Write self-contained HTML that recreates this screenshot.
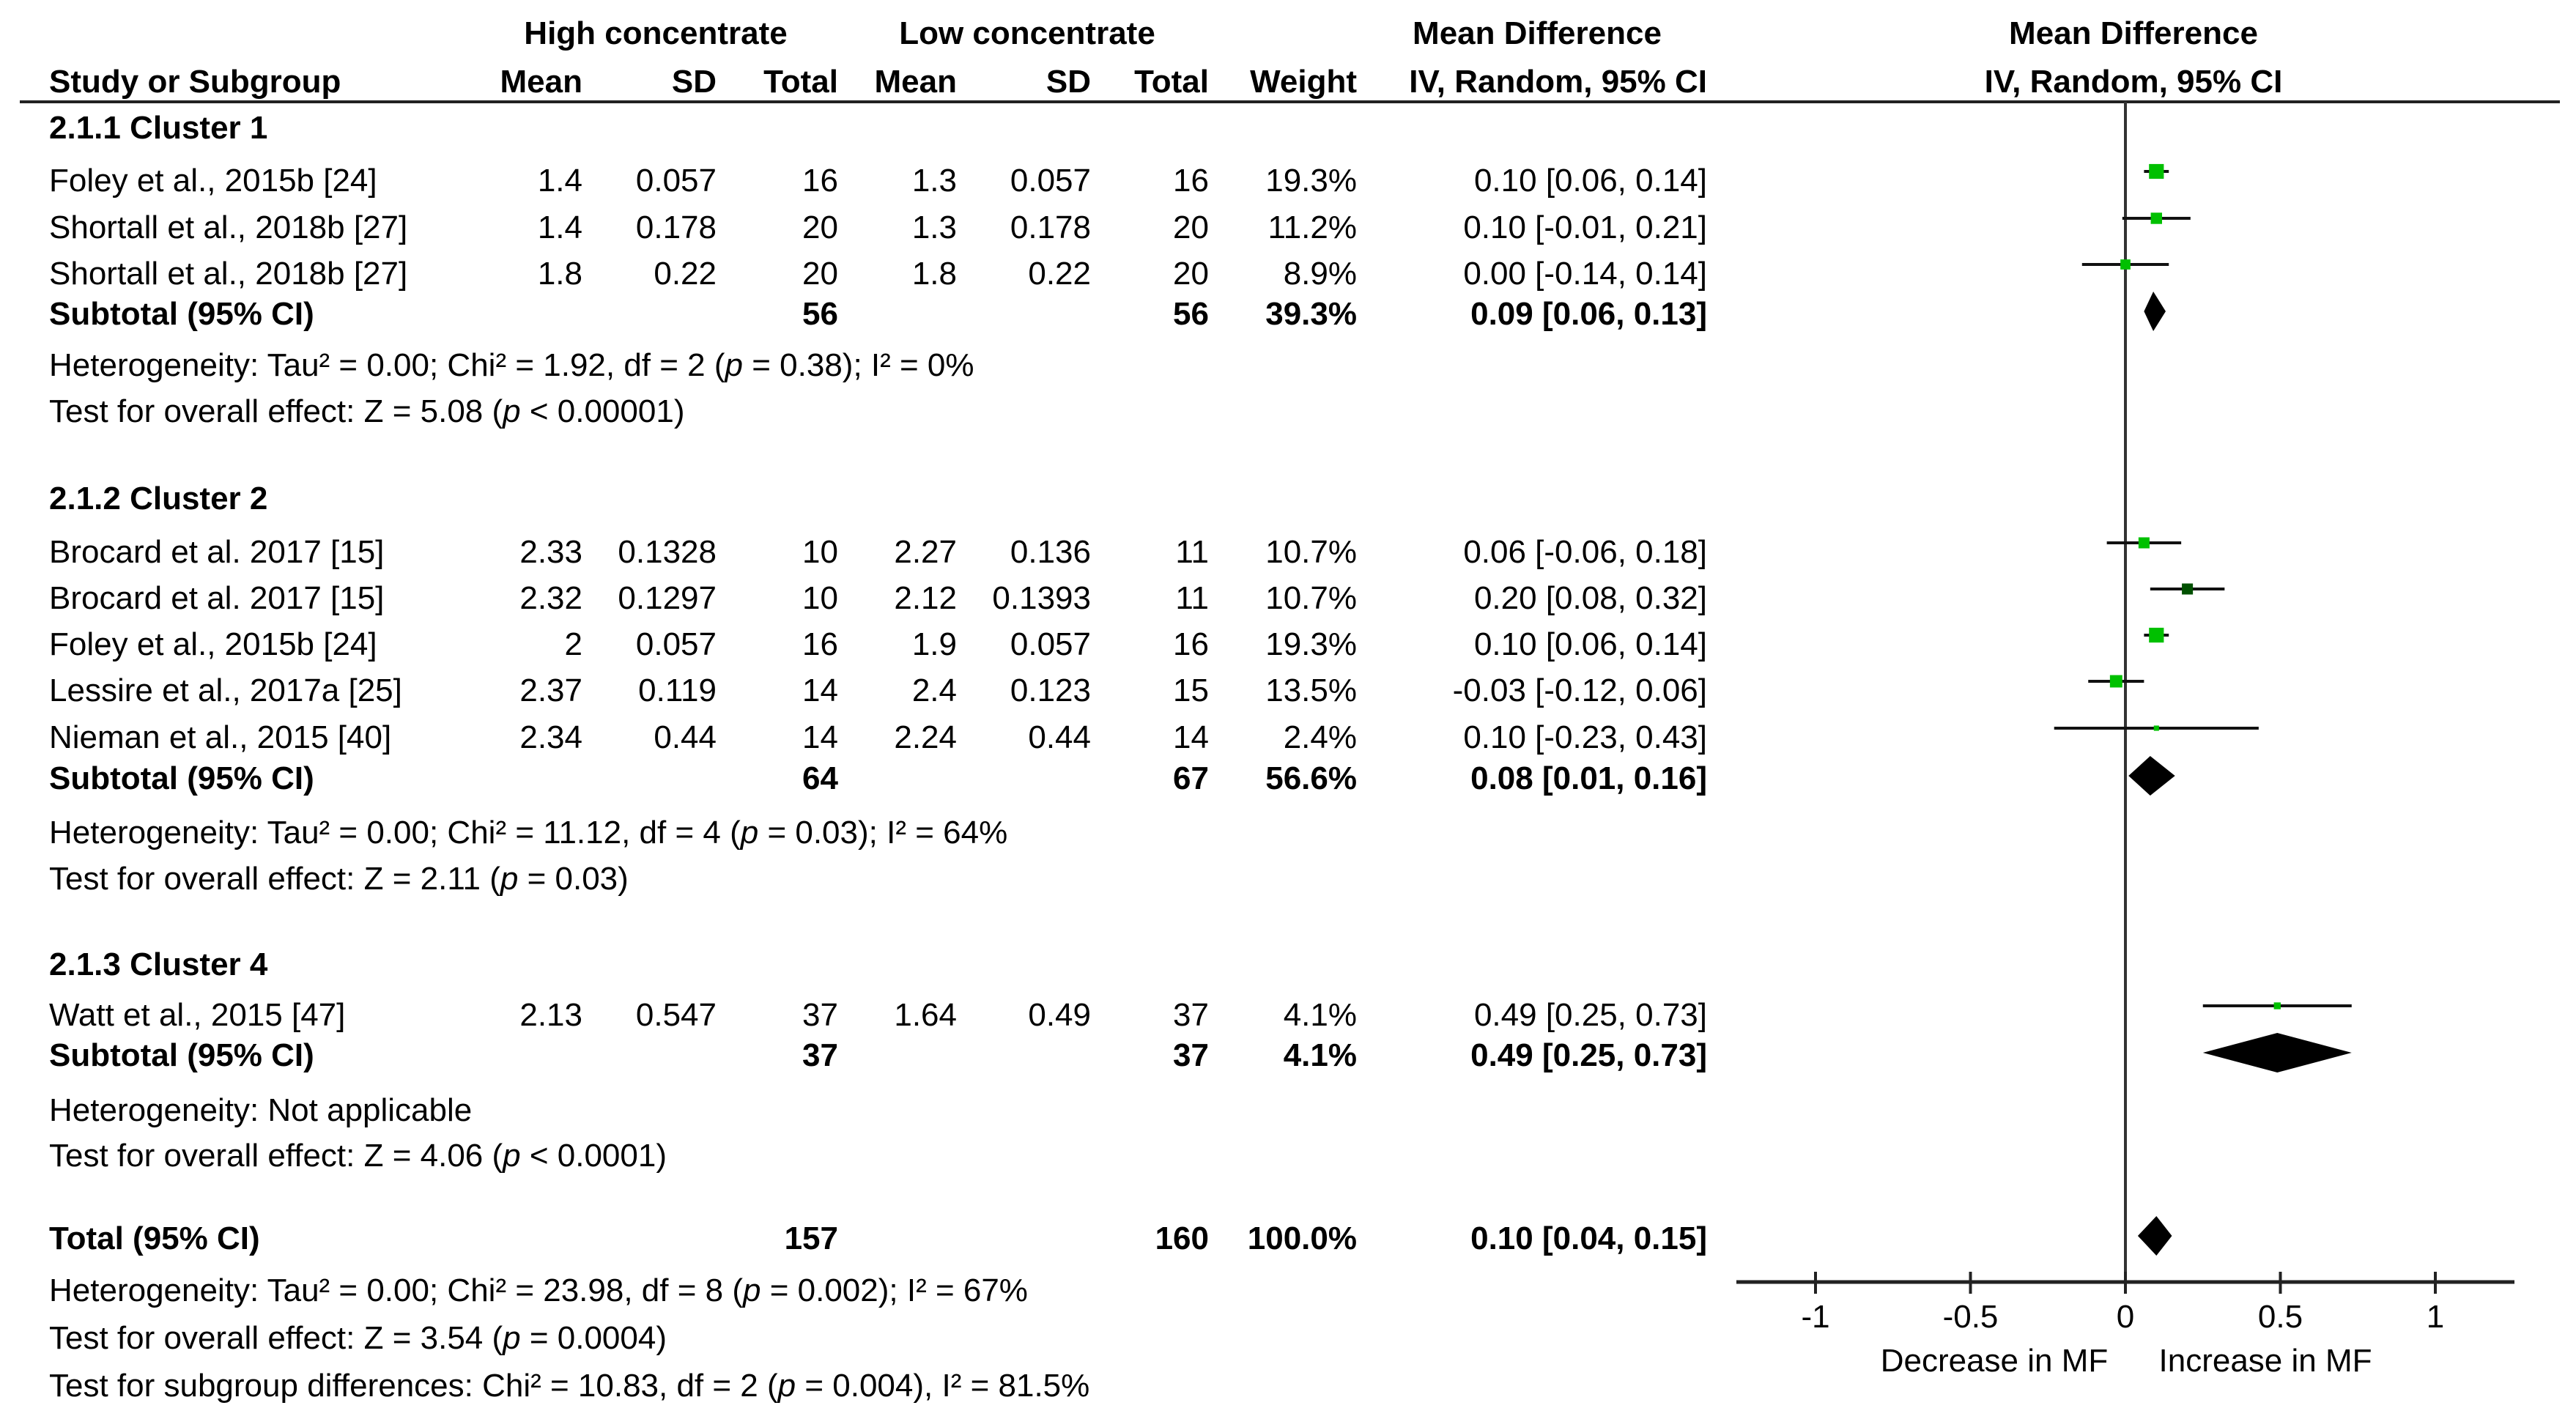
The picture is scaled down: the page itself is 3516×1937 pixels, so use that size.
<!DOCTYPE html>
<html><head><meta charset="utf-8"><style>
html,body{margin:0;padding:0;background:#fff;}
svg{display:block;}
text{font-family:"Liberation Sans",Arial,sans-serif;font-size:44px;fill:#000;}
.b{font-weight:bold;}
.r{text-anchor:end;}
.c{text-anchor:middle;}
</style></head><body>
<svg id="chart" width="3516" height="1937" viewBox="0 0 3516 1937" xmlns="http://www.w3.org/2000/svg">
<g id="table"></g>
<g id="plot"></g>
</svg>
<script>
// ---- data ----
const studyNames = ["Foley et al., 2015b [24]","Shortall et al., 2018b [27]","Shortall et al., 2018b [27]","Brocard et al.  2017 [15]","Brocard et al.  2017 [15]","Foley et al., 2015b [24]","Lessire et al., 2017a [25]","Nieman et al., 2015 [40]","Watt et al., 2015 [47]"];
const highMean = ["1.4","1.4","1.8","2.33","2.32","2","2.37","2.34","2.13"];
const highSD = ["0.057","0.178","0.22","0.1328","0.1297","0.057","0.119","0.44","0.547"];
const highN = ["16","20","20","10","10","16","14","14","37"];
const lowMean = ["1.3","1.3","1.8","2.27","2.12","1.9","2.4","2.24","1.64"];
const lowSD = ["0.057","0.178","0.22","0.136","0.1393","0.057","0.123","0.44","0.49"];
const lowN = ["16","20","20","11","11","16","15","14","37"];
const weights = [19.3,11.2,8.9,10.7,10.7,19.3,13.5,2.4,4.1];
const md = [0.10,0.10,0.00,0.06,0.20,0.10,-0.03,0.10,0.49];
const ciLow = [0.06,-0.01,-0.14,-0.06,0.08,0.06,-0.12,-0.23,0.25];
const ciHigh = [0.14,0.21,0.14,0.18,0.32,0.14,0.06,0.43,0.73];
const studyRowY = [246,310,373,753,816,879,942,1006,1385];
const studyColor = ["#00c000","#00c000","#00c000","#00c000","#005000","#00c000","#00c000","#00c000","#00c000"];
const subNames = ["Subtotal (95% CI)","Subtotal (95% CI)","Subtotal (95% CI)","Total (95% CI)"];
const subHighN = ["56","64","37","157"];
const subLowN = ["56","67","37","160"];
const subWeight = ["39.3%","56.6%","4.1%","100.0%"];
const subMd = [0.09,0.08,0.49,0.10];
const subLow = [0.06,0.01,0.25,0.04];
const subHigh = [0.13,0.16,0.73,0.15];
const subRowY = [428,1062,1440,1690];
const tickValues = [-1,-0.5,0,0.5,1];
const tickLabels = ["-1","-0.5","0","0.5","1"];

// ---- scales ----
const X0 = 2901, UNIT = 423;
function xs(v){ return X0 + v*UNIT; }
const NS = "http://www.w3.org/2000/svg";
const table = document.getElementById('table');
const plot = document.getElementById('plot');
function fmt(v){ return v.toFixed(2); }
function txt(parent, x, y, s, cls, name){
  const t = document.createElementNS(NS,'text');
  t.setAttribute('x',x); t.setAttribute('y',y);
  if(cls) t.setAttribute('class',cls);
  t.innerHTML = s;
  
  
  parent.appendChild(t); return t;
}
function el(parent, tag, attrs, name){
  const e = document.createElementNS(NS,tag);
  for(const k in attrs) e.setAttribute(k, attrs[k]);
  
  
  parent.appendChild(e); return e;
}
const BL = 15;
const LX = 67;
const cMean1=795, cSD1=978, cN1=1144, cMean2=1306, cSD2=1489, cN2=1650, cW=1852, cCI=2330;

txt(table, 895, 60, "High concentrate", "b c", "header-high-concentrate");
txt(table, 1402, 60, "Low concentrate", "b c", "header-low-concentrate");
txt(table, 2098, 60, "Mean Difference", "b c", "header-mean-difference");
txt(table, 2912, 60, "Mean Difference", "b c", "header-plot-mean-difference");
txt(table, LX, 126, "Study or Subgroup", "b", "header-study");
txt(table, cMean1, 126, "Mean", "b r", "header-mean-high");
txt(table, cSD1, 126, "SD", "b r", "header-sd-high");
txt(table, cN1, 126, "Total", "b r", "header-total-high");
txt(table, cMean2, 126, "Mean", "b r", "header-mean-low");
txt(table, cSD2, 126, "SD", "b r", "header-sd-low");
txt(table, cN2, 126, "Total", "b r", "header-total-low");
txt(table, cW, 126, "Weight", "b r", "header-weight");
txt(table, cCI, 126, "IV, Random, 95% CI", "b r", "header-ci");
txt(table, 2912, 126, "IV, Random, 95% CI", "b c", "header-plot-ci");
el(table,'line',{x1:27,y1:139,x2:3494,y2:139,stroke:'#222','stroke-width':4},'header-rule');

txt(table, LX, 189, "2.1.1 Cluster 1", "b", "group-cluster-1");
txt(table, LX, 695, "2.1.2 Cluster 2", "b", "group-cluster-2");
txt(table, LX, 1331, "2.1.3 Cluster 4", "b", "group-cluster-4");

const P = '<tspan font-style="italic">p</tspan>';
txt(table, LX, 513, "Heterogeneity: Tau² = 0.00; Chi² = 1.92, df = 2 ("+P+" = 0.38); I² = 0%", "", "heterogeneity-cluster-1");
txt(table, LX, 576, "Test for overall effect: Z = 5.08 ("+P+" &lt; 0.00001)", "", "overall-effect-cluster-1");
txt(table, LX, 1151, "Heterogeneity: Tau² = 0.00; Chi² = 11.12, df = 4 ("+P+" = 0.03); I² = 64%", "", "heterogeneity-cluster-2");
txt(table, LX, 1214, "Test for overall effect: Z = 2.11 ("+P+" = 0.03)", "", "overall-effect-cluster-2");
txt(table, LX, 1530, "Heterogeneity: Not applicable", "", "heterogeneity-cluster-4");
txt(table, LX, 1592, "Test for overall effect: Z = 4.06 ("+P+" &lt; 0.0001)", "", "overall-effect-cluster-4");
txt(table, LX, 1776, "Heterogeneity: Tau² = 0.00; Chi² = 23.98, df = 8 ("+P+" = 0.002); I² = 67%", "", "heterogeneity-total");
txt(table, LX, 1841, "Test for overall effect: Z = 3.54 ("+P+" = 0.0004)", "", "overall-effect-total");
txt(table, LX, 1906, "Test for subgroup differences: Chi² = 10.83, df = 2 ("+P+" = 0.004), I² = 81.5%", "", "subgroup-differences");

for(let i=0;i<studyNames.length;i++){
  const y = studyRowY[i]+BL;
  txt(table, LX, y, studyNames[i], "", "study-name");
  txt(table, cMean1, y, highMean[i], "r", "high-mean");
  txt(table, cSD1, y, highSD[i], "r", "high-sd");
  txt(table, cN1, y, highN[i], "r", "high-total");
  txt(table, cMean2, y, lowMean[i], "r", "low-mean");
  txt(table, cSD2, y, lowSD[i], "r", "low-sd");
  txt(table, cN2, y, lowN[i], "r", "low-total");
  txt(table, cW, y, weights[i].toFixed(1)+"%", "r", "weight");
  txt(table, cCI, y, fmt(md[i])+" ["+fmt(ciLow[i])+", "+fmt(ciHigh[i])+"]", "r", "mean-difference-ci");
}
for(let i=0;i<subNames.length;i++){
  const y = subRowY[i]+BL;
  txt(table, LX, y, subNames[i], "b", "subtotal-label");
  txt(table, cN1, y, subHighN[i], "b r", "subtotal-high-total");
  txt(table, cN2, y, subLowN[i], "b r", "subtotal-low-total");
  txt(table, cW, y, subWeight[i], "b r", "subtotal-weight");
  txt(table, cCI, y, fmt(subMd[i])+" ["+fmt(subLow[i])+", "+fmt(subHigh[i])+"]", "b r", "subtotal-ci");
}

const AXY = 1750;
el(plot,'line',{x1:xs(0),y1:139,x2:xs(0),y2:AXY,stroke:'#333','stroke-width':4},'zero-line');
el(plot,'line',{x1:2370,y1:AXY,x2:3432,y2:AXY,stroke:'#222','stroke-width':5},'x-axis');
for(let i=0;i<tickValues.length;i++){
  const x = xs(tickValues[i]);
  el(plot,'line',{x1:x,y1:AXY-14,x2:x,y2:AXY+16,stroke:'#222','stroke-width':4},'x-tick');
  txt(plot, x, 1812, tickLabels[i], "c", "x-tick-label");
}
txt(plot, 2722, 1872, "Decrease in MF", "c", "axis-label-decrease");
txt(plot, 3092, 1872, "Increase in MF", "c", "axis-label-increase");

for(let i=0;i<md.length;i++){
  const y = studyRowY[i]-12;
  el(plot,'line',{x1:xs(ciLow[i]),y1:y,x2:xs(ciHigh[i]),y2:y,stroke:'#111','stroke-width':4},'ci-line');
  const s = Math.sqrt(weights[i])*4.6;
  el(plot,'rect',{x:xs(md[i])-s/2,y:y-s/2,width:s,height:s,fill:studyColor[i]},'effect-square');
}
for(let i=0;i<subMd.length;i++){
  const y = subRowY[i]-3, h = 27;
  const pts = [xs(subLow[i])+","+y, xs(subMd[i])+","+(y-h), xs(subHigh[i])+","+y, xs(subMd[i])+","+(y+h)].join(" ");
  el(plot,'polygon',{points:pts,fill:'#000'},'summary-diamond');
}
</script>
</body></html>
